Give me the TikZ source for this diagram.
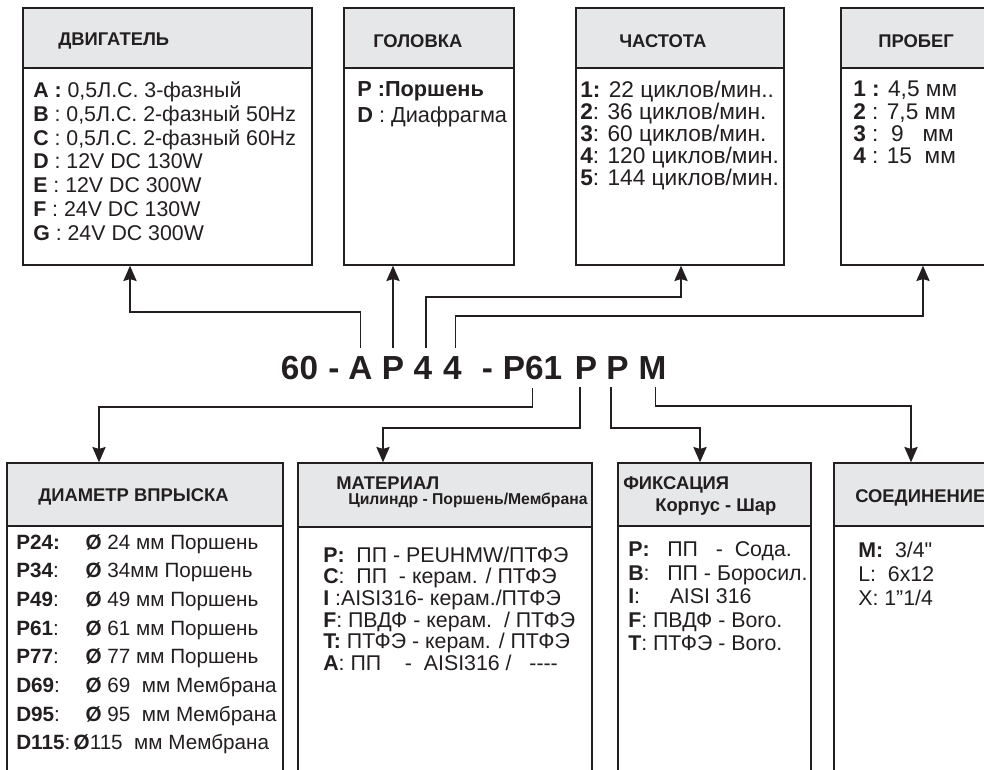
\documentclass[tikz,border=0pt]{standalone}
\usepackage{fontspec}
\setmainfont{Liberation Sans}[Ligatures=TeXOff]
\usetikzlibrary{arrows.meta,fit}
\definecolor{hdr}{RGB}{230,231,232}
\definecolor{ink}{RGB}{35,31,32}
\begin{document}
\begin{tikzpicture}[x=0.75pt,y=-0.75pt,
 box/.style={draw=ink,line width=1.1pt,inner sep=0pt},
 hbox/.style={draw=ink,fill=hdr,line width=1.1pt,inner sep=0pt},
 htext/.style={font=\fontsize{13.8}{16}\selectfont\bfseries,anchor=west,inner sep=0pt,text=ink},
 body/.style={font=\fontsize{16}{18}\selectfont,anchor=north west,align=left,inner sep=0pt,text=ink},
 code/.style={font=\fontsize{25}{25}\selectfont\bfseries,anchor=base,inner xsep=0pt,inner ysep=6pt,text=ink},
 con/.style={draw=ink,line width=0.9pt},
 arr/.style={con,-{Stealth[length=11.5pt,width=10pt,inset=1.5pt]}}]
\clip (0,0) rectangle (984,769);
\fill[white] (0,0) rectangle (984,769);

% top boxes
\node[box,fit={(23,8)(312,265)}] (b1) {};
\node[hbox,fit={(23,8)(312,68)}] (h1) {};
\node[box,fit={(344,8)(514,265)}] (b2) {};
\node[hbox,fit={(344,8)(514,68)}] (h2) {};
\node[box,fit={(576,8)(784,265)}] (b3) {};
\node[hbox,fit={(576,8)(784,68)}] (h3) {};
\node[box,fit={(841,8)(1000,265)}] (b4) {};
\node[hbox,fit={(841,8)(1000,68)}] (h4) {};

% bottom boxes
\node[box,fit={(7,463)(283,800)}] (b5) {};
\node[hbox,fit={(7,463)(283,526)}] (h5) {};
\node[box,fit={(298,463)(592,800)}] (b6) {};
\node[hbox,fit={(298,463)(592,527)}] (h6) {};
\node[box,fit={(618,463)(811,800)}] (b7) {};
\node[hbox,fit={(618,463)(811,526)}] (h7) {};
\node[box,fit={(834,463)(1000,800)}] (b8) {};
\node[hbox,fit={(834,463)(1000,526)}] (h8) {};

% headers
\node[htext] (t1) at (58,41) {ДВИГАТЕЛЬ};
\node[htext] (t2) at (373,41) {ГОЛОВКА};
\node[htext] (t3) at (619,41) {ЧАСТОТА};
\node[htext] (t4) at (878,41) {ПРОБЕГ};
\node[htext] (t5) at (38,497) {ДИАМЕТР ВПРЫСКА};
\node[htext] (t6) at (336,483) {МАТЕРИАЛ};
\node[htext,font=\fontsize{11.8}{13}\selectfont\bfseries] (t6b) at (348,500) {Цилиндр - Поршень/Мембрана};
\node[htext] (t7) at (623,485) {ФИКСАЦИЯ};
\node[htext] (t7b) at (655,507) {Корпус - Шар};
\node[htext] (t8) at (855,498) {СОЕДИНЕНИЕ};

% body texts
\node[body,font=\fontsize{16}{17.8}\selectfont] (x1) at (33,81.5) {\textbf{A :} 0,5Л.С. 3-фазный\\
\textbf{B} : 0,5Л.С. 2-фазный 50Hz\\
\textbf{C} : 0,5Л.С. 2-фазный 60Hz\\
\textbf{D} : 12V DC 130W\\
\textbf{E} : 12V DC 300W\\
\textbf{F} : 24V DC 130W\\
\textbf{G} : 24V DC 300W};
\node[body,font=\fontsize{16.3}{19}\selectfont] (x2) at (357,81.5) {\textbf{P :Поршень}\\
\textbf{D} : Диафрагма};
\node[body,font=\fontsize{17}{16.4}\selectfont] (x3) at (580,81) {\textbf{1:} 22 циклов/мин..\\
\textbf{2}: 36 циклов/мин.\\
\textbf{3}: 60 циклов/мин.\\
\textbf{4}: 120 циклов/мин.\\
\textbf{5}: 144 циклов/мин.};
\node[body,font=\fontsize{17}{16.7}\selectfont] (x4) at (853,81) {\textbf{1 :} 4,5 мм\\
\textbf{2} : 7,5 мм\\
\textbf{3} :\ \ 9\ \ \ мм\\
\textbf{4} : 15\ \ мм};
\node[body,font=\fontsize{15.5}{21.5}\selectfont] (x5) at (16,534) {\makebox[52pt][l]{\textbf{P24:}}\textbf{Ø} 24 мм Поршень\\
\makebox[52pt][l]{\textbf{P34}:}\textbf{Ø} 34мм Поршень\\
\makebox[52pt][l]{\textbf{P49}:}\textbf{Ø} 49 мм Поршень\\
\makebox[52pt][l]{\textbf{P61}:}\textbf{Ø} 61 мм Поршень\\
\makebox[52pt][l]{\textbf{P77}:}\textbf{Ø} 77 мм Поршень\\
\makebox[52pt][l]{\textbf{D69}:}\textbf{Ø} 69\ \ мм Мембрана\\
\makebox[52pt][l]{\textbf{D95}:}\textbf{Ø} 95\ \ мм Мембрана\\
\textbf{D115}:\,\textbf{Ø}115\ \ мм Мембрана};
\node[body,font=\fontsize{16}{16.2}\selectfont] (x6) at (323,546.5) {\textbf{P:}\ \ ПП - PEUHMW/ПТФЭ\\
\textbf{C}:\ \ ПП\ \ - керам. / ПТФЭ\\
\textbf{I} :AISI316- керам./ПТФЭ\\
\textbf{F}: ПВДФ - керам.\ \ / ПТФЭ\\
\textbf{T:} ПТФЭ - керам. / ПТФЭ\\
\textbf{A}: ПП\ \ \ \ -\ \ AISI316 /\ \ \ ----};
\node[body,font=\fontsize{16}{17.6}\selectfont] (x7) at (628,541.5) {\textbf{P:}\ \ \ ПП\ \ \ -\ \ Сода.\\
\textbf{B}:\ \ \ ПП - Боросил.\\
\textbf{I}:\ \ \ \ \ AISI 316\\
\textbf{F}: ПВДФ - Boro.\\
\textbf{T}: ПТФЭ - Boro.};
\node[body] (x8) at (858,541.5) {\textbf{M:}\ \ 3/4"\\
L:\ \ 6x12\\
X: 1”1/4};

% code
\node[code] (c60) at (299.5,379) {60};
\node[code] (cd1) at (334,379) {-};
\node[code] (cA) at (360.5,379) {A};
\node[code] (cP) at (393,379) {P};
\node[code] (cF) at (423,379) {4};
\node[code] (cS) at (452.5,379) {4};
\node[code] (cd2) at (487.5,379) {-};
\node[code] (cD) at (532.5,379) {P61};
\node[code] (cM) at (586,379) {P};
\node[code] (cX) at (617.5,379) {P};
\node[code] (cC) at (652.5,379) {M};

% connectors up
\coordinate (k1) at (130,312);
\draw[arr] (cA.north) |- (k1) -- (k1 |- b1.south);
\draw[arr] (cP.north) -- (cP.north |- b2.south);
\coordinate (k3) at (681,297);
\draw[arr] ([xshift=2.2pt]cF.north) |- (k3) -- (k3 |- b3.south);
\coordinate (k4) at (923,316);
\draw[arr] ([xshift=2pt]cS.north) |- (k4) -- (k4 |- b4.south);

% connectors down
\coordinate (k5) at (99,407);
\draw[arr] (cD.south) |- (k5) -- (k5 |- b5.north);
\coordinate (k6) at (383,428);
\draw[arr] ([xshift=-4.5pt]cM.south) |- (k6) -- (k6 |- b6.north);
\coordinate (k7) at (700,428);
\draw[arr] ([xshift=-4.9pt]cX.south) |- (k7) -- (k7 |- b7.north);
\coordinate (k8) at (911,406);
\draw[arr] ([xshift=2pt]cC.south) |- (k8) -- (k8 |- b8.north);
\end{tikzpicture}
\end{document}
